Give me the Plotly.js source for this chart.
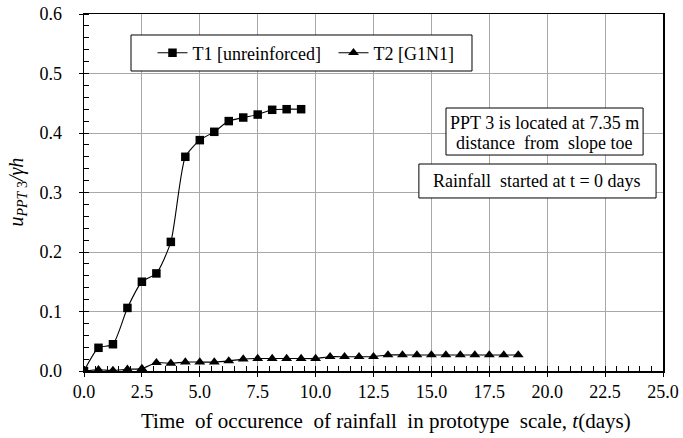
<!DOCTYPE html>
<html>
<head>
<meta charset="utf-8">
<script src="https://cdn.plot.ly/plotly-3.0.1.min.js"></script>
<style>html,body{margin:0;padding:0;background:#fff;}#chart{width:683px;height:438px;}</style>
</head>
<body>
<div id="chart"></div>
<script>
// Time (days)
const t1 = [0, 0.625, 1.25, 1.875, 2.5, 3.125, 3.75, 4.375, 5, 5.625, 6.25, 6.875, 7.5, 8.125, 8.75, 9.375];
const t1Values = [0, 0.039, 0.045, 0.106, 0.150, 0.164, 0.217, 0.360, 0.388, 0.402, 0.420, 0.426, 0.431, 0.439, 0.440, 0.440];

const t2 = [0, 0.625, 1.25, 1.875, 2.5, 3.125, 3.75, 4.375, 5, 5.625, 6.25, 6.875, 7.5, 8.125, 8.75, 9.375,
            10, 10.625, 11.25, 11.875, 12.5, 13.125, 13.75, 14.375, 15, 15.625, 16.25, 16.875, 17.5, 18.125, 18.75];
const t2Values = [0, 0.002, 0.001, 0.003, 0.004, 0.014, 0.013, 0.015, 0.015, 0.015, 0.017, 0.020, 0.021, 0.021, 0.021, 0.021,
                  0.021, 0.024, 0.024, 0.024, 0.024, 0.027, 0.027, 0.027, 0.027, 0.027, 0.027, 0.027, 0.027, 0.027, 0.027];

const seriesNames = ['T1 [unreinforced]', 'T2 [G1N1]'];
const xTickVals = [0, 2.5, 5, 7.5, 10, 12.5, 15, 17.5, 20, 22.5, 25];
const yTickVals = [0, 0.1, 0.2, 0.3, 0.4, 0.5, 0.6];
const xTitle = 'Time  of occurence  of rainfall  in prototype  scale, <i>t</i>(days)';
const yTitle = '<i>u</i><sub><i>PPT</i> 3</sub><i>/γh</i>';
const noteLines = ['PPT 3 is located at 7.35 m', 'distance  from  slope toe'];
const rainNote = 'Rainfall  started at t = 0 days';

const FONT = 'Liberation Serif';

const traces = [
  {
    x: t1, y: t1Values, name: seriesNames[0], type: 'scatter', mode: 'lines+markers',
    line: {color: '#000', width: 1.1, shape: 'spline', smoothing: 0.6},
    marker: {symbol: 'square', size: 8.5, color: '#000'}
  },
  {
    x: t2, y: t2Values, name: seriesNames[1], type: 'scatter', mode: 'lines+markers',
    line: {color: '#000', width: 1.1, shape: 'spline', smoothing: 0.6},
    marker: {symbol: 'triangle-up', size: 9.5, color: '#000'}
  }
];

const layout = {
  width: 683, height: 438,
  margin: {l: 84, r: 20, t: 14, b: 67},
  paper_bgcolor: '#fff', plot_bgcolor: '#fff',
  font: {family: FONT, size: 18, color: '#000'},
  showlegend: true,
  legend: {
    orientation: 'h', x: 0.1183, y: 0.8908, xanchor: 'left', yanchor: 'middle',
    borderwidth: 0, bgcolor: 'rgba(0,0,0,0)', entrywidth: 136,
    font: {family: FONT, size: 18, color: '#000'}
  },
  xaxis: {
    range: [0, 25], tickvals: xTickVals, tickformat: '.1f',
    showgrid: true, gridcolor: '#a8a8a8', gridwidth: 1,
    showline: true, linecolor: '#000', linewidth: 1.5, mirror: true,
    ticks: 'outside', ticklen: 4, tickcolor: '#000',
    minor: {dtick: 0.5, ticks: 'inside', ticklen: 5, tickcolor: '#000', showgrid: false},
    zeroline: false,
    tickfont: {family: FONT, size: 18, color: '#000'}
  },
  yaxis: {
    range: [0, 0.6], tickvals: yTickVals, tickformat: '.1f',
    showgrid: true, gridcolor: '#a8a8a8', gridwidth: 1,
    showline: true, linecolor: '#000', linewidth: 1.5, mirror: true,
    ticks: 'outside', ticklen: 4, tickcolor: '#000', ticklabelstandoff: 13,
    minor: {dtick: 0.02, ticks: 'inside', ticklen: 5, tickcolor: '#000', showgrid: false},
    zeroline: false,
    tickfont: {family: FONT, size: 18, color: '#000'}
  },
  shapes: [
    {type: 'rect', xref: 'paper', yref: 'paper', x0: 0.0812, x1: 0.6701, y0: 0.8403, y1: 0.9412,
     line: {color: '#000', width: 1}, fillcolor: '#fff', layer: 'above'},
    {type: 'rect', xref: 'x', yref: 'y', x0: 15.63, x1: 24.14, y0: 0.3630, y1: 0.4420,
     line: {color: '#000', width: 1}, fillcolor: '#fff', layer: 'above'},
    {type: 'rect', xref: 'x', yref: 'y', x0: 14.46, x1: 24.70, y0: 0.2908, y1: 0.3479,
     line: {color: '#000', width: 1}, fillcolor: '#fff', layer: 'above'}
  ],
  annotations: [
    {xref: 'paper', yref: 'paper', x: 0.5216, y: -0.140, xanchor: 'center', yanchor: 'middle',
     text: xTitle, showarrow: false, font: {family: FONT, size: 21, color: '#000'}},
    {xref: 'paper', yref: 'paper', x: -0.1157, y: 0.5, xanchor: 'center', yanchor: 'middle', textangle: -90,
     text: yTitle, showarrow: false, font: {family: FONT, size: 20, color: '#000'}},
    {xref: 'x', yref: 'y', x: 19.88, y: 0.4168, xanchor: 'center', yanchor: 'middle',
     text: noteLines[0], showarrow: false, font: {family: FONT, size: 18, color: '#000'}},
    {xref: 'x', yref: 'y', x: 19.88, y: 0.3830, xanchor: 'center', yanchor: 'middle',
     text: noteLines[1], showarrow: false, font: {family: FONT, size: 18, color: '#000'}},
    {xref: 'x', yref: 'y', x: 19.58, y: 0.3193, xanchor: 'center', yanchor: 'middle',
     text: rainNote, showarrow: false, font: {family: FONT, size: 18, color: '#000'}}
  ]
};

Plotly.newPlot('chart', traces, layout, {displayModeBar: false, staticPlot: true});
</script>
</body>
</html>
